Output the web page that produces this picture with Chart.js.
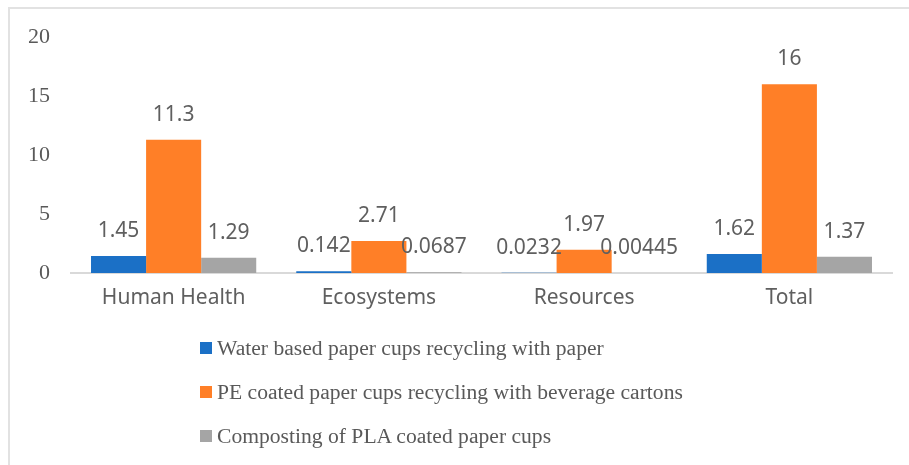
<!DOCTYPE html>
<html>
<head>
<meta charset="utf-8">
<title>Paper cups end-of-life impacts</title>
<script src="https://cdn.jsdelivr.net/npm/chart.js@4/dist/chart.umd.min.js"></script>
<style>
  html, body { margin: 0; padding: 0; background: #fff; }
  #wrap { position: relative; width: 909px; height: 465px; overflow: hidden; }
  #frame {
    position: absolute; left: 8px; top: 7px; right: -4px; bottom: -4px;
    border-top: 2px solid #e2e2e2; border-left: 2px solid #e2e2e2;
  }
  #cups-chart { position: absolute; left: 0; top: 0; }
  #legend {
    position: absolute; left: 200px; top: 336px;
    font-family: "Liberation Serif", "Times New Roman", serif;
    font-size: 21.6px; color: #595959;
  }
  #legend .item { height: 44px; line-height: 24px; white-space: nowrap; }
  #legend .box {
    display: inline-block; width: 12px; height: 12px;
    margin-right: 5px; vertical-align: 1px;
  }
</style>
</head>
<body>
<div id="wrap">
  <div id="frame"></div>
  <canvas id="cups-chart" width="909" height="465"></canvas>
  <div id="legend"></div>
</div>
<script>
/* ===================== DATA ===================== */

const categories = ["Human Health", "Ecosystems", "Resources", "Total"];

const waterBased = [1.45, 0.142, 0.0232, 1.62];
const peCoated = [11.3, 2.71, 1.97, 16];
const plaComposting = [1.29, 0.0687, 0.00445, 1.37];

const seriesNames = [
  "Water based paper cups recycling with paper",
  "PE coated paper cups recycling with beverage cartons",
  "Composting of PLA coated paper cups",
];

const yTicks = [0, 5, 10, 15, 20];

const seriesColors = ["#1B70C6", "#FF7F27", "#A5A5A5"];

/* ===================== VALUE LABELS ===================== */

const valueLabels = {
  id: "valueLabels",
  afterDatasetsDraw(chart) {
    const ctx = chart.ctx;
    ctx.save();
    ctx.font = '21px "Noto Sans", sans-serif';
    ctx.fillStyle = "#5f5f5f";
    ctx.textAlign = "center";
    ctx.textBaseline = "alphabetic";
    chart.data.datasets.forEach((ds, i) => {
      chart.getDatasetMeta(i).data.forEach((bar, j) => {
        ctx.fillText(String(ds.data[j]), bar.x, bar.y - 19);
      });
    });
    ctx.restore();
  },
};

/* ===================== CHART ===================== */

const allSeries = [waterBased, peCoated, plaComposting];

const cupsChart = new Chart(document.getElementById("cups-chart"), {
  type: "bar",
  data: {
    labels: categories,
    datasets: allSeries.map((data, i) => ({
      label: seriesNames[i],
      data,
      backgroundColor: seriesColors[i],
      borderWidth: 0,
      barPercentage: 1,
      categoryPercentage: 0.805,
    })),
  },
  options: {
    responsive: false,
    devicePixelRatio: 1,
    animation: false,
    layout: { padding: { top: 37, right: 17, bottom: 152, left: 0 } },
    plugins: { legend: { display: false }, tooltip: { enabled: false } },
    scales: {
      x: {
        grid: { display: false, drawTicks: false },
        border: { display: true, color: "#d9d9d9", width: 2 },
        ticks: {
          padding: 12,
          color: "#5f5f5f",
          font: { family: "'Noto Sans', sans-serif", size: 21 },
        },
        afterFit: (s) => { s.height = 40; },
      },
      y: {
        min: yTicks[0],
        max: yTicks[yTicks.length - 1],
        grid: { display: false, drawTicks: false },
        border: { display: false },
        afterBuildTicks: (s) => { s.ticks = yTicks.map((v) => ({ value: v })); },
        ticks: {
          padding: 21,
          color: "#595959",
          font: { family: "'Liberation Serif', 'Times New Roman', serif", size: 22 },
        },
        afterFit: (s) => { s.width = 71; },
      },
    },
  },
  plugins: [valueLabels],
});

/* ===================== LEGEND ===================== */

document.getElementById("legend").innerHTML = seriesNames
  .map((name, i) =>
    `<div class="item"><span class="box" style="background:${seriesColors[i]}"></span>${name}</div>`)
  .join("");
</script>
</body>
</html>
